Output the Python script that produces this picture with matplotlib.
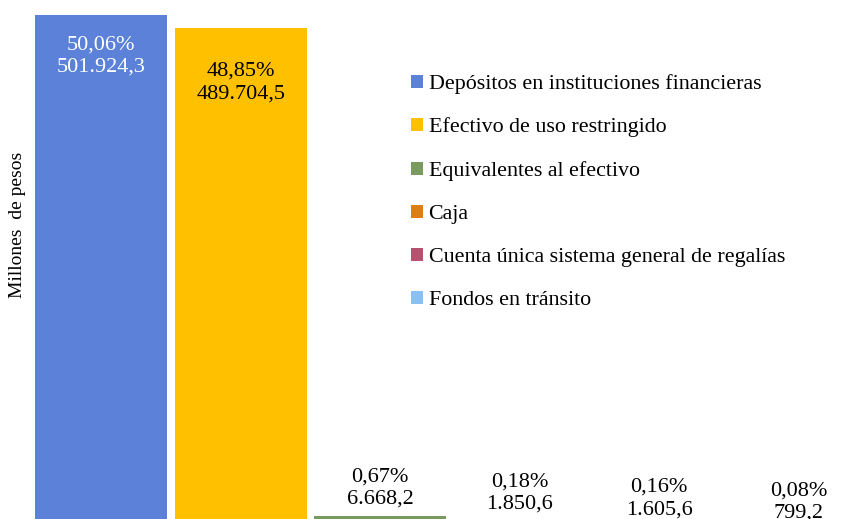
import matplotlib.pyplot as plt
from matplotlib.patches import Patch

plt.rcParams['font.family'] = ['Liberation Serif', 'DejaVu Serif']

categorias = ['Depósitos en instituciones financieras',
              'Efectivo de uso restringido',
              'Equivalentes al efectivo',
              'Caja',
              'Cuenta única sistema general de regalías',
              'Fondos en tránsito']
valores = [501924.3, 489704.5, 6668.2, 1850.6, 1605.6, 799.2]
porcentajes = ['50,06%', '48,85%', '0,67%', '0,18%', '0,16%', '0,08%']
montos = ['501.924,3', '489.704,5', '6.668,2', '1.850,6', '1.605,6', '799,2']

colores = ['#5B82D8', '#FFC000', '#7A9A5F', '#DF7C12', '#B8506F', '#8BC0F4']
color_txt = ['white', 'black', 'black', 'black', 'black', 'black']
# desplazamiento vertical de cada etiqueta (pixeles, centro del texto respecto al tope)
offs = [-41, -55, 28, 28, 23, 20]

W, H = 844, 519
fig = plt.figure(figsize=(W / 100, H / 100), dpi=100)
# el eje se sale un poco por abajo: la base de las barras queda fuera de la imagen
ax = fig.add_axes([31.5 / W, -4 / H, 837 / W, 526 / H])

x = range(len(valores))
ax.bar(x, valores, width=0.945, color=colores)
ax.set_xlim(-0.5, 5.5)
ax.set_ylim(0, 520000)
ax.axis('off')

for i, v in enumerate(valores):
    ax.annotate(porcentajes[i] + '\n' + montos[i], xy=(i, v),
                xytext=(0, offs[i]), textcoords='offset pixels',
                ha='center', va='center', fontsize=16,
                color=color_txt[i], linespacing=1.25)

fig.text(18 / W, 1 - 225 / H, 'Millones  de pesos', rotation=90,
         ha='center', va='center', fontsize=14)

handles = [Patch(facecolor=c, edgecolor='none') for c in colores]
fig.legend(handles, categorias, loc='upper left',
           bbox_to_anchor=(400 / W, 1 - 63 / H), frameon=False,
           fontsize=15.8, handlelength=0.55, handleheight=0.55,
           handletextpad=0.25, labelspacing=1.08, borderpad=0)

fig.savefig('out.png', dpi=100)
